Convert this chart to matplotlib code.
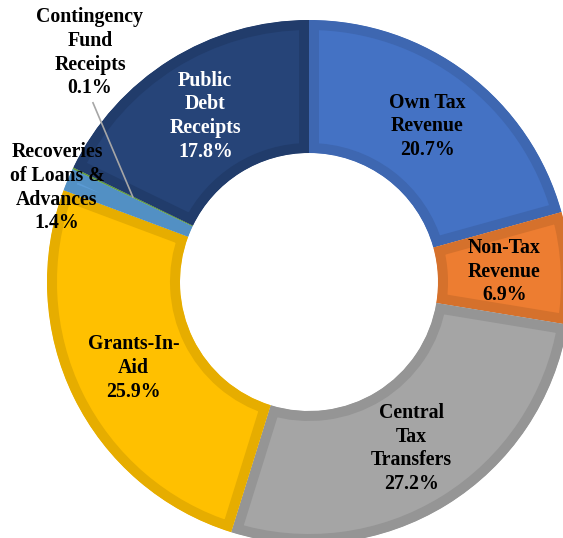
import matplotlib
matplotlib.use("Agg")
import numpy as np
import matplotlib.pyplot as plt
from matplotlib.patches import Wedge

labels = ["Own Tax\nRevenue", "Non-Tax\nRevenue", "Central\nTax\nTransfers",
          "Grants-In-\nAid", "Recoveries\nof Loans &\nAdvances",
          "Contingency\nFund\nReceipts", "Public\nDebt\nReceipts"]
shares = [20.7, 6.9, 27.2, 25.9, 1.4, 0.1, 17.8]
fills = ["#4472C4", "#ED7D31", "#A5A5A5", "#FFC000", "#5B9BD5", "#70AD47", "#264478"]
borders = ["#3E67B1", "#D5712C", "#959595", "#E6AD00", "#5290C4", "#639C3E", "#213C6B"]
text_colors = ["black", "black", "black", "black", "black", "black", "white"]

W, H = 563, 538
cx, cy = 309, H - 282
r_out, r_in = 262, 129
r_mid = (r_out + r_in) / 2

fig = plt.figure(figsize=(W / 100, H / 100), dpi=100)
ax = fig.add_axes([0, 0, 1, 1])
ax.set_xlim(0, W)
ax.set_ylim(0, H)
ax.set_aspect("equal")
ax.axis("off")

# outside labels: (radius, angle in degrees)
outside = {4: (269, 159.5), 5: (317, 133.7)}

cum = 0.0
for i, v in enumerate(shares):
    t2 = 90 - cum * 3.6
    t1 = 90 - (cum + v) * 3.6
    w = Wedge((cx, cy), r_out, t1, t2, width=r_out - r_in,
              facecolor=fills[i], edgecolor=borders[i], linewidth=14.4)
    ax.add_patch(w)
    w.set_clip_path(w)
    mid = np.radians((t1 + t2) / 2)
    txt = labels[i] + "\n" + f"{v:.1f}%"
    if i in outside:
        rr, aa = outside[i]
        x = cx + rr * np.cos(np.radians(aa))
        y = cy + rr * np.sin(np.radians(aa))
        if i == 5:
            ax.plot([cx + r_mid * np.cos(mid), x + 3, ],
                    [cy + r_mid * np.sin(mid), y - 50],
                    color="#A6A6A6", lw=1.2)
    else:
        x = cx + r_mid * np.cos(mid)
        y = cy + r_mid * np.sin(mid)
    ax.text(x, y, txt, ha="center", va="center", multialignment="center",
            fontsize=14.3, fontweight="bold", family="Liberation Serif",
            color=text_colors[i], linespacing=1.24)
    cum += v

fig.savefig("out.png", dpi=100)
